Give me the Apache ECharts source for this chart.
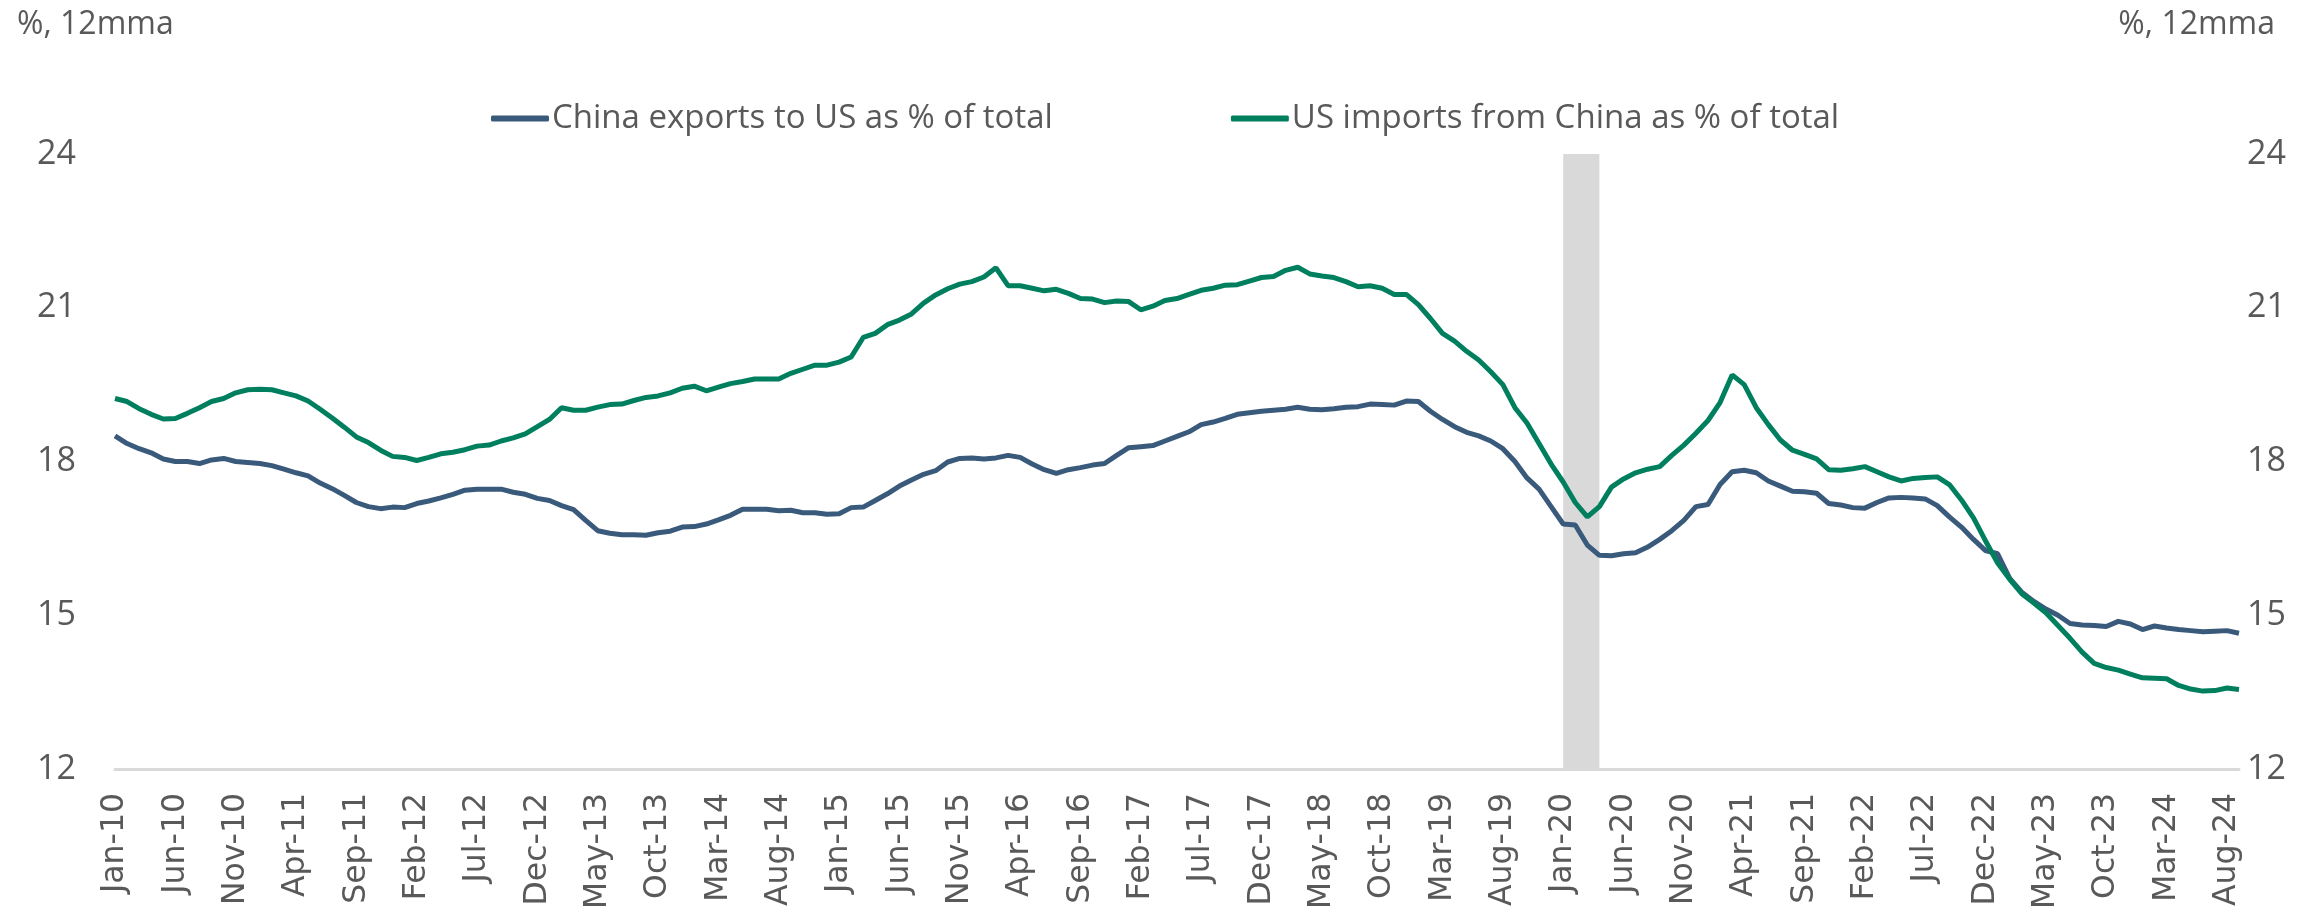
<!DOCTYPE html>
<html>
<head>
<meta charset="utf-8">
<title>China / US trade share</title>
<script src="https://cdn.jsdelivr.net/npm/echarts@6/dist/echarts.min.js"></script>
<style>
  html, body { margin: 0; padding: 0; background: #fff; }
  #chart { width: 2318px; height: 909px; }
</style>
</head>
<body>
<div id="chart"></div>
<script>
// monthly, Jan-10 .. Sep-24
const monthNames = ['Jan', 'Feb', 'Mar', 'Apr', 'May', 'Jun', 'Jul', 'Aug', 'Sep', 'Oct', 'Nov', 'Dec']
const startYear = 2010
const monthCount = 177

const chinaExportsToUS = [
  18.50, 18.35, 18.25, 18.17, 18.05, 18.00, 18.00, 17.96, 18.03, 18.06,
  18.00, 17.98, 17.96, 17.92, 17.85, 17.78, 17.72, 17.58, 17.47, 17.34,
  17.20, 17.12, 17.08, 17.11, 17.10, 17.18, 17.23, 17.29, 17.36, 17.44,
  17.46, 17.46, 17.46, 17.40, 17.36, 17.28, 17.24, 17.14, 17.06, 16.85,
  16.65, 16.60, 16.57, 16.57, 16.56, 16.61, 16.64, 16.72, 16.73, 16.78,
  16.86, 16.95, 17.07, 17.07, 17.07, 17.04, 17.05, 17.00, 17.00, 16.97,
  16.98, 17.10, 17.11, 17.24, 17.37, 17.52, 17.64, 17.75, 17.82, 17.99,
  18.06, 18.07, 18.05, 18.07, 18.12, 18.08, 17.95, 17.84, 17.77, 17.84,
  17.88, 17.93, 17.96, 18.12, 18.27, 18.29, 18.31, 18.40, 18.49, 18.58,
  18.72, 18.77, 18.84, 18.92, 18.95, 18.98, 19.00, 19.02, 19.06, 19.02,
  19.01, 19.03, 19.06, 19.07, 19.12, 19.11, 19.10, 19.18, 19.17, 18.98,
  18.82, 18.68, 18.57, 18.50, 18.40, 18.25, 18.00, 17.68, 17.46, 17.12,
  16.78, 16.76, 16.37, 16.17, 16.16, 16.20, 16.22, 16.33, 16.48, 16.65,
  16.85, 17.12, 17.16, 17.55, 17.80, 17.83, 17.78, 17.62, 17.52, 17.42,
  17.41, 17.38, 17.18, 17.15, 17.10, 17.09, 17.20, 17.29, 17.30, 17.29,
  17.27, 17.14, 16.92, 16.72, 16.48, 16.26, 16.20, 15.72, 15.45, 15.27,
  15.12, 15.00, 14.84, 14.81, 14.80, 14.78, 14.88, 14.83, 14.72, 14.79,
  14.75, 14.72, 14.70, 14.68, 14.69, 14.70, 14.65
]

const usImportsFromChina = [
  19.23, 19.17, 19.03, 18.92, 18.83, 18.84, 18.94, 19.05, 19.17, 19.23,
  19.34, 19.40, 19.41, 19.40, 19.34, 19.28, 19.18, 19.02, 18.85, 18.67,
  18.48, 18.37, 18.22, 18.10, 18.08, 18.02, 18.08, 18.15, 18.18, 18.23,
  18.30, 18.32, 18.40, 18.46, 18.54, 18.68, 18.82, 19.05, 19.00, 19.00,
  19.06, 19.11, 19.12, 19.19, 19.25, 19.28, 19.34, 19.43, 19.47, 19.38,
  19.45, 19.52, 19.56, 19.61, 19.61, 19.61, 19.72, 19.80, 19.88, 19.88,
  19.94, 20.04, 20.42, 20.50, 20.67, 20.76, 20.88, 21.09, 21.25, 21.37,
  21.46, 21.51, 21.60, 21.78, 21.43, 21.43, 21.38, 21.33, 21.36, 21.28,
  21.18, 21.17, 21.10, 21.13, 21.12, 20.96, 21.03, 21.14, 21.18, 21.26,
  21.34, 21.38, 21.44, 21.45, 21.52, 21.59, 21.61, 21.73, 21.79, 21.66,
  21.62, 21.59, 21.51, 21.41, 21.43, 21.38, 21.26, 21.26, 21.06, 20.79,
  20.50, 20.35, 20.15, 19.98, 19.75, 19.50, 19.05, 18.75, 18.35, 17.95,
  17.60, 17.20, 16.92, 17.12, 17.50, 17.66, 17.78, 17.85, 17.90, 18.12,
  18.32, 18.55, 18.80, 19.15, 19.69, 19.50, 19.05, 18.72, 18.42, 18.22,
  18.14, 18.05, 17.84, 17.83, 17.86, 17.90, 17.80, 17.70, 17.62, 17.67,
  17.69, 17.70, 17.55, 17.25, 16.90, 16.45, 16.02, 15.70, 15.42, 15.24,
  15.05, 14.80, 14.55, 14.28, 14.06, 13.98, 13.93, 13.85, 13.78, 13.77,
  13.76, 13.63, 13.56, 13.52, 13.53, 13.58, 13.55
]

// shaded covid period
const shadeStart = 'Jan-20'
const shadeEnd = 'Apr-20'

const months = []
for (let k = 0; k < monthCount; k++) {
  const y = startYear + Math.floor(k / 12)
  months.push(monthNames[k % 12] + '-' + String(y).slice(2))
}

const textColor = '#595959'
const labelFont = 'Open Sans'

const chart = echarts.init(document.getElementById('chart'))

const yAxisBase = {
  type: 'value',
  min: 12,
  max: 24,
  interval: 3,
  axisLine: { show: false },
  axisTick: { show: false },
  splitLine: { show: false },
  axisLabel: {
    color: textColor,
    fontFamily: labelFont,
    fontSize: 34
  }
}

chart.setOption({
  animation: false,
  title: [
    {
      text: '%, 12mma',
      left: 12,
      top: 4,
      textStyle: { color: textColor, fontFamily: labelFont, fontSize: 32, fontWeight: 'normal' }
    },
    {
      text: '%, 12mma',
      right: 38,
      top: 4,
      textStyle: { color: textColor, fontFamily: labelFont, fontSize: 32, fontWeight: 'normal' }
    }
  ],
  legend: {
    left: 486,
    top: 97,
    icon: 'roundRect',
    itemWidth: 58,
    itemHeight: 6,
    itemGap: 178,
    textStyle: { color: textColor, fontFamily: labelFont, fontSize: 33, padding: [0, 0, 0, -2] },
    data: ['China exports to US as % of total', 'US imports from China as % of total']
  },
  grid: {
    left: 115,
    right: 79,
    top: 154,
    bottom: 140,
    containLabel: false,
    outerBoundsMode: 'none'
  },
  xAxis: {
    type: 'category',
    data: months,
    boundaryGap: false,
    axisLine: { lineStyle: { color: '#d9d9d9', width: 3 } },
    axisTick: { show: false },
    axisLabel: {
      interval: 4,
      rotate: 90,
      margin: 24,
      color: textColor,
      fontFamily: 'DejaVu Sans',
      fontSize: 31.5
    }
  },
  yAxis: [
    Object.assign({}, yAxisBase, { position: 'left', axisLabel: Object.assign({}, yAxisBase.axisLabel, { margin: 39 }) }),
    Object.assign({}, yAxisBase, { position: 'right', axisLabel: Object.assign({}, yAxisBase.axisLabel, { margin: 8 }) })
  ],
  series: [
    {
      name: 'shade',
      type: 'line',
      data: [],
      silent: true,
      z: 1,
      markArea: {
        silent: true,
        itemStyle: { color: '#d9d9d9' },
        data: [[{ xAxis: shadeStart }, { xAxis: shadeEnd }]]
      }
    },
    {
      name: 'China exports to US as % of total',
      type: 'line',
      data: chinaExportsToUS,
      showSymbol: false,
      z: 3,
      itemStyle: { color: '#3a5a7c' },
      lineStyle: { color: '#3a5a7c', width: 5 }
    },
    {
      name: 'US imports from China as % of total',
      type: 'line',
      data: usImportsFromChina,
      showSymbol: false,
      z: 4,
      itemStyle: { color: '#007f5f' },
      lineStyle: { color: '#007f5f', width: 5 }
    }
  ]
})
</script>
</body>
</html>
